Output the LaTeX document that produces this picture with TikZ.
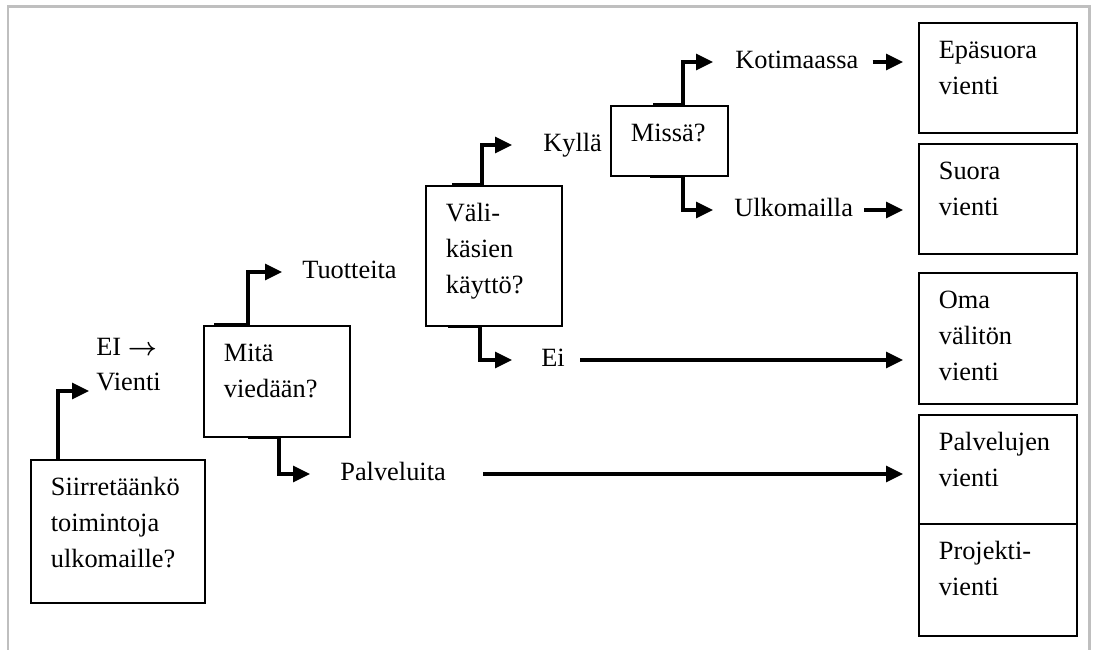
\documentclass[tikz,border=0pt]{standalone}
\usepackage{fontspec}
\setmainfont{Liberation Serif}
\usepackage{amsmath}
\usepackage{tikz}
\usetikzlibrary{arrows.meta}

% text block inside a decision box: height, width, lines
\newcommand{\boxtext}[3]{\parbox[t][#1][t]{#2}{\raggedright\strut #3}}

\begin{document}
\begin{tikzpicture}[
        every node/.style={font=\fontsize{15}{20.5}\selectfont},
        box/.style={draw, line width=1pt, anchor=north west, inner xsep=0.4cm, inner ysep=0.2cm},
        lbl/.style={anchor=west, inner sep=0pt, text height=0.38cm, text depth=0.1cm},
        conn/.style={line width=1.8pt, -{Triangle[length=0.34cm,width=0.32cm]}}
    ]
        \useasboundingbox (0,0) rectangle (21.9,-13);
        % Frame
        \draw[gray!50, line width=1.7pt] (0.16,-13) -- (0.16,-0.14) -- (21.78,-0.14) -- (21.78,-13);

        % Questions
        \node[box] (q1) at (0.6,-9.18) {\boxtext{2.46cm}{2.68cm}{Siirretäänkö\\toimintoja\\ulkomaille?}};
        \node[box] (q2) at (4.06,-6.5) {\boxtext{1.82cm}{2.12cm}{Mitä\\viedään?}};
        \node[box] (q3) at (8.5,-3.7) {\boxtext{2.4cm}{1.92cm}{Väli-\\käsien\\käyttö?}};
        \node[box] (q4) at (12.2,-2.1) {\boxtext{1.0cm}{1.54cm}{Missä?}};

        % Export forms
        \node[box] (r1) at (18.36,-0.44) {\boxtext{1.8cm}{2.36cm}{Epäsuora\\vienti}};
        \node[box] (r2) at (18.36,-2.86) {\boxtext{1.8cm}{2.36cm}{Suora\\vienti}};
        \node[box] (r3) at (18.36,-5.44) {\boxtext{2.22cm}{2.36cm}{Oma\\välitön\\vienti}};
        \node[box] (r4) at (18.36,-8.28) {\boxtext{1.78cm}{2.36cm}{Palvelujen\\vienti}};
        \node[box] (r5) at (18.36,-10.46) {\boxtext{1.84cm}{2.36cm}{Projekti-\\vienti}};

        % Answers
        \node[lbl, anchor=base west] (eitext) at (1.92,-7.12) {EI $\boldsymbol{\rightarrow}$};
        \node[lbl, anchor=base west] (vienti) at (1.92,-7.82) {Vienti};
        \node[lbl] (tuotteita) at (6.04,-5.44) {Tuotteita};
        \node[lbl] (palveluita) at (6.8,-9.48) {Palveluita};
        \node[lbl] (kylla) at (10.86,-2.9) {Kyllä};
        \node[lbl] (ei) at (10.82,-7.2) {Ei};
        \node[lbl] (kotimaassa) at (14.7,-1.24) {Kotimaassa};
        \node[lbl] (ulkomailla) at (14.68,-4.2) {Ulkomailla};

        % Elbow connectors
        \draw[conn] ([xshift=0.56cm]q1.north west) |- ([xshift=-0.14cm]vienti.base west);
        \draw[conn, shorten >=0.4cm] ([xshift=0.22cm]q2.north west) -- ([xshift=0.9cm]q2.north west) |- (tuotteita);
        \draw[conn, shorten >=0.6cm] ([xshift=0.9cm]q2.south west) -- ([xshift=1.52cm]q2.south west) |- (palveluita);
        \draw[conn, shorten >=0.62cm] ([xshift=0.54cm]q3.north west) -- ([xshift=1.14cm]q3.north west) |- (kylla);
        \draw[conn, shorten >=0.58cm] ([xshift=0.46cm]q3.south west) -- ([xshift=1.1cm]q3.south west) |- (ei);
        \draw[conn, shorten >=0.44cm] ([xshift=0.86cm]q4.north west) -- ([xshift=1.46cm]q4.north west) |- (kotimaassa);
        \draw[conn, shorten >=0.42cm] ([xshift=0.8cm]q4.south west) -- ([xshift=1.46cm]q4.south west) |- (ulkomailla);

        % Straight connectors
        \draw[conn, shorten >=0.3cm] ([xshift=0.28cm]kotimaassa.east) -- (kotimaassa.east -| r1.west);
        \draw[conn, shorten >=0.3cm] ([xshift=0.22cm]ulkomailla.east) -- (ulkomailla.east -| r2.west);
        \draw[conn, shorten >=0.3cm] ([xshift=0.3cm]ei.east) -- (ei.east -| r3.west);
        \draw[conn, shorten >=0.3cm] ([xshift=0.74cm]palveluita.east) -- (palveluita.east -| r4.west);
\end{tikzpicture}
\end{document}
